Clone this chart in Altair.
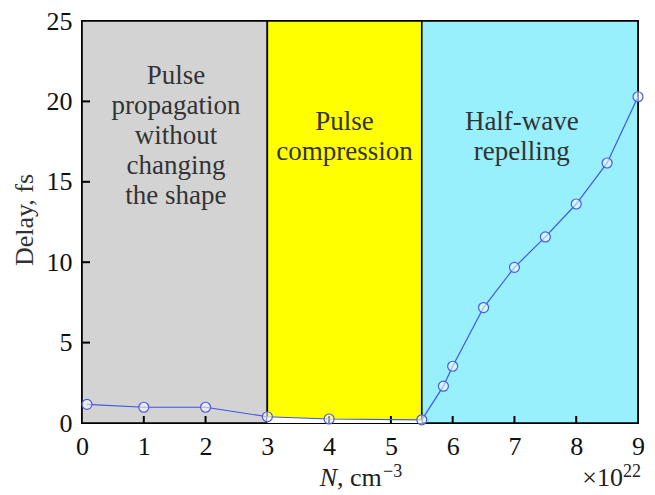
import altair as alt
import pandas as pd

# data
N = [0.08, 1, 2, 3, 4, 5.5, 5.85, 6, 6.5, 7, 7.5, 8, 8.5, 9]
DELAY = [1.16, 0.98, 0.98, 0.39, 0.25, 0.2, 2.29, 3.53, 7.18, 9.68, 11.57, 13.62, 16.17, 20.29]

REGION_START = [0, 3, 5.5]
REGION_END = [3, 5.5, 9]
REGION_COLOR = ["#d3d3d3", "#ffff00", "#97f0fc"]
REGION_LABEL = ["Pulse\npropagation\nwithout\nchanging\nthe shape", "Pulse\ncompression", "Half-wave\nrepelling"]
REGION_LABEL_X = [1.52, 4.25, 7.12]

X_TICKS = list(range(0, 10))
Y_TICKS = [0, 5, 10, 15, 20, 25]

W, H = 556, 402
FONT = "Liberation Serif"

pts = pd.DataFrame({"N": N, "D": DELAY})
reg = pd.DataFrame({"x0": REGION_START, "x1": REGION_END, "c": REGION_COLOR})
lab = pd.DataFrame({"x": REGION_LABEL_X, "t": REGION_LABEL, "k": [0, 1, 2]})

xs = alt.Scale(domain=[0, 9], nice=False, zero=False)
ys = alt.Scale(domain=[0, 25], nice=False, zero=False)

xaxis = alt.Axis(values=X_TICKS, title=None, ticks=False, tickSize=0, domain=False, grid=False,
                 labelFont=FONT, labelFontSize=26, labelColor="#111", labelPadding=10,
                 labelFlush=False, labelOverlap=False, format="d")
yaxis = alt.Axis(values=Y_TICKS, title=None, ticks=False, tickSize=0, domain=False, grid=False,
                 labelFont=FONT, labelFontSize=26, labelColor="#111", labelPadding=10,
                 labelFlush=False, labelOverlap=False, format="d")

rects = alt.Chart(reg).mark_rect(stroke="black", strokeWidth=1.6).encode(
    x=alt.X("x0:Q", scale=xs, axis=xaxis),
    x2="x1:Q",
    y=alt.value(0),
    y2=alt.value(H),
    color=alt.Color("c:N", scale=None),
)

white = alt.Chart(pts).transform_filter("datum.N >= 3 && datum.N <= 5.5").mark_area(
    color="white", opacity=1
).encode(
    x=alt.X("N:Q", scale=xs),
    y=alt.Y("D:Q", scale=ys, axis=yaxis),
    y2=alt.datum(0),
)

xt = pd.DataFrame({"v": [1, 2, 4, 5, 6, 7, 8]})
yt = pd.DataFrame({"v": [5, 10, 15, 20]})
xticks = alt.Chart(xt).mark_rule(color="black", strokeWidth=2).encode(
    x=alt.X("v:Q", scale=xs), y=alt.value(H), y2=alt.value(H - 7))
yticks = alt.Chart(yt).mark_rule(color="black", strokeWidth=2).encode(
    y=alt.Y("v:Q", scale=ys), x=alt.value(0), x2=alt.value(8))

line = alt.Chart(pts).mark_line(color="#3f56e6", strokeWidth=1.2).encode(
    x=alt.X("N:Q", scale=xs), y=alt.Y("D:Q", scale=ys))
points = alt.Chart(pts).mark_point(shape="circle", size=100, filled=False, stroke="#4a5ae6",
                                   strokeWidth=1.2, fill="white", fillOpacity=0.55).encode(
    x=alt.X("N:Q", scale=xs), y=alt.Y("D:Q", scale=ys))

label_base = alt.Chart(lab).mark_text(font=FONT, fontSize=27, color="#333", lineBreak="\n",
                                      lineHeight=30, baseline="alphabetic", align="center")
labels1 = label_base.transform_filter("datum.k == 0").encode(
    x=alt.X("x:Q", scale=xs), y=alt.value(63), text="t:N")
labels2 = label_base.transform_filter("datum.k != 0").encode(
    x=alt.X("x:Q", scale=xs), y=alt.value(109), text="t:N")

ytitle = alt.Chart(pd.DataFrame({"t": ["Delay, fs"]})).mark_text(
    font=FONT, fontSize=26, color="#333", angle=270, baseline="middle", align="center"
).encode(x=alt.value(-57), y=alt.value(199), text="t:N")

nlab = alt.Chart(pd.DataFrame({"t": ["N"]})).mark_text(
    font=FONT, fontSize=26, fontStyle="italic", color="#222", align="right", baseline="alphabetic"
).encode(x=alt.value(255), y=alt.value(465), text="t:N")
cm = alt.Chart(pd.DataFrame({"t": [", cm"]})).mark_text(
    font=FONT, fontSize=26, color="#222", align="left", baseline="alphabetic"
).encode(x=alt.value(255), y=alt.value(465), text="t:N")
sup = alt.Chart(pd.DataFrame({"t": ["\u22123"]})).mark_text(
    font=FONT, fontSize=18, color="#222", align="left", baseline="alphabetic"
).encode(x=alt.value(301), y=alt.value(456), text="t:N")

ten = alt.Chart(pd.DataFrame({"t": ["\u00d710"]})).mark_text(
    font=FONT, fontSize=26, color="#222", align="right", baseline="alphabetic"
).encode(x=alt.value(541), y=alt.value(465), text="t:N")
exp = alt.Chart(pd.DataFrame({"t": ["22"]})).mark_text(
    font=FONT, fontSize=18, color="#222", align="left", baseline="alphabetic"
).encode(x=alt.value(541), y=alt.value(456), text="t:N")

chart = alt.layer(rects, white, xticks, yticks, line, points, labels1, labels2, ytitle, nlab, cm, sup, ten, exp).properties(
    width=W, height=H,
    autosize=alt.AutoSizeParams(type="none"),
    padding={"left": 82, "top": 21, "right": 17, "bottom": 72},
    background="white",
).configure_view(stroke="black", strokeWidth=2)

chart.save("out.html", embed_options={"renderer": "svg", "actions": False})
